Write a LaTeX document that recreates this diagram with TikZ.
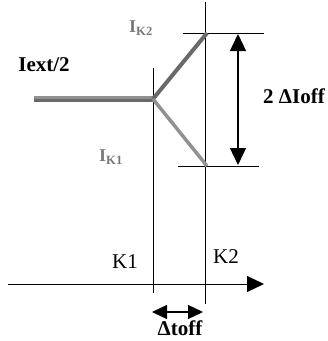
\documentclass[tikz,border=0pt]{standalone}
\usepackage{fontspec}
\setmainfont{Liberation Serif}
\usetikzlibrary{arrows.meta}
\definecolor{darkg}{RGB}{105,105,105}
\definecolor{lightg}{RGB}{145,145,145}
\definecolor{labg}{RGB}{120,120,120}
\begin{document}
\begin{tikzpicture}[x=1pt,y=-1pt,
  thinline/.style={line width=1pt,black},
  bigtip/.style={-{Triangle[length=17pt,width=16pt]}},
  dbltip/.style={{Triangle[length=17pt,width=16pt]}-{Triangle[length=17pt,width=16pt]}},
  smalldbl/.style={{Triangle[length=15pt,width=14pt]}-{Triangle[length=15pt,width=14pt]}},
  lab/.style={font=\fontsize{21}{22}\selectfont,inner sep=0pt},
  blab/.style={font=\fontsize{21}{22}\selectfont\bfseries,inner sep=0pt},
  glab/.style={font=\fontsize{18}{20}\selectfont\bfseries,text=labg,inner sep=0pt}]
\useasboundingbox (0,0) rectangle (328,341);
% coordinates
\coordinate (ax0) at (8,284);
\coordinate (ax1) at (264,284);
\coordinate (k1t) at (153,68);
\coordinate (k1b) at (153,293);
\coordinate (k2t) at (205,2);
\coordinate (k2b) at (205,304);
\coordinate (start) at (34,99);
\coordinate (split) at (153,99);
\coordinate (top) at (207,33);
\coordinate (bot) at (207,166);
\coordinate (h1a) at (183,33);
\coordinate (h1b) at (264,33);
\coordinate (h2a) at (178,166);
\coordinate (h2b) at (259,166);
\coordinate (va) at (238,34);
\coordinate (vb) at (238,165);
\coordinate (ta) at (152,312);
\coordinate (tb) at (203,312);
% axes and guides
\draw[thinline,bigtip] (ax0) -- (ax1);
\draw[thinline] (k1t) -- (k1b);
\draw[thinline] (k2t) -- (k2b);
\draw[thinline] (h1a) -- (h1b);
\draw[thinline] (h2a) -- (h2b);
% current curves
\draw[line width=3pt,darkg] ([yshift=-1.5pt]start) -- ([yshift=-1.5pt]split);
\draw[line width=3pt,lightg] ([yshift=1.5pt]start) -- ([yshift=1.5pt]split);
\draw[line width=4pt,darkg] (split) -- (top);
\draw[line width=3.5pt,lightg] (split) -- (bot);
% dimension arrows
\draw[line width=1.3pt,dbltip] (va) -- (vb);
\draw[line width=1.3pt,smalldbl] (ta) -- (tb);
% labels
\node[blab] (iext) at (44,65) {Iext/2};
\node[blab] (dioff) at (294,96) {2 ΔIoff};
\node[glab] (ik2) at (141,28) {I\textsubscript{K2}};
\node[glab] (ik1) at (111,157) {I\textsubscript{K1}};
\node[lab] (k1) at (125,262) {K1};
\node[lab] (k2) at (226,257) {K2};
\node[blab] (dtoff) at (180,328) {Δtoff};
\end{tikzpicture}
\end{document}
